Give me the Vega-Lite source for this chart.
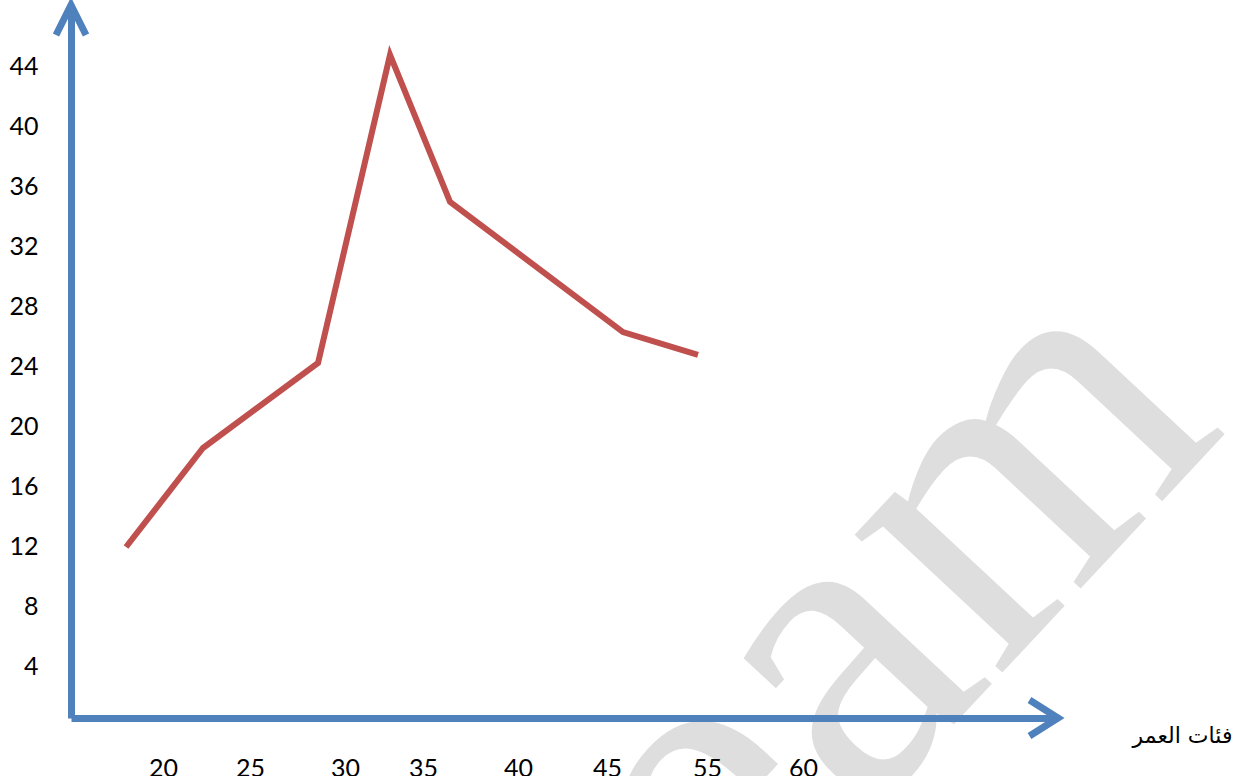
{
  "$schema": "https://vega.github.io/schema/vega-lite/v6.json",
  "width": 987,
  "height": 713,
  "autosize": {"type": "none"},
  "padding": {"left": 71, "top": 5, "right": 184, "bottom": 58},
  "background": "white",
  "config": {"view": {"stroke": null}, "font": "Lato"},
  "datasets": {
    "series": [
      {"age": 17.69, "value": 12.0},
      {"age": 22.5, "value": 18.6},
      {"age": 29.69, "value": 24.27},
      {"age": 34.19, "value": 44.8},
      {"age": 37.94, "value": 35.0},
      {"age": 48.75, "value": 26.33},
      {"age": 53.44, "value": 24.8}
    ],
    "watermark": [{"text": "eam", "age": 65, "value": 8}]
  },
  "layer": [
    {
      "data": {"name": "watermark"},
      "mark": {"type": "text", "font": "Liberation Serif", "fontSize": 440, "color": "#dedede", "angle": -47, "align": "center", "baseline": "middle"},
      "encoding": {
        "x": {"field": "age", "type": "quantitative", "scale": {"domain": [14.25, 75.94], "nice": false, "zero": false}},
        "y": {"field": "value", "type": "quantitative", "scale": {"domain": [0.6, 48.13], "nice": false, "zero": false}},
        "text": {"field": "text"}
      }
    },
    {
      "data": {"name": "series"},
      "mark": {"type": "line", "color": "#c0504d", "strokeWidth": 6, "strokeJoin": "miter", "strokeCap": "butt"},
      "encoding": {
        "x": {
          "field": "age", "type": "quantitative",
          "scale": {"domain": [14.25, 75.94], "nice": false, "zero": false},
          "axis": {
            "zindex": 1,
            "values": [20, 25.4375, 31.375, 36.25, 42.19, 47.75, 54.0, 60.0],
            "labelExpr": "['20','25','30','35','40','45','55','60'][indexof([20, 25.4375, 31.375, 36.25, 42.19, 47.75, 54.0, 60.0], datum.value)]",
            "domainColor": "#4f81bd", "domainWidth": 7, "domainCap": "butt",
            "ticks": false, "grid": false,
            "labelFont": "Lato", "labelFontSize": 25, "labelColor": "#000000",
            "labelPadding": 38, "labelFlush": false, "labelOverlap": false,
            "title": "فئات العمر", "titleFont": "DejaVu Sans", "titleFontSize": 22, "titleFontWeight": "normal",
            "titleColor": "#000000", "titleX": 1111, "titleY": 17, "titleAlign": "center", "titleBaseline": "middle"
          }
        },
        "y": {
          "field": "value", "type": "quantitative",
          "scale": {"domain": [0.6, 48.13], "nice": false, "zero": false},
          "axis": {
            "zindex": 1,
            "values": [4, 8, 12, 16, 20, 24, 28, 32, 36, 40, 44],
            "domainColor": "#4f81bd", "domainWidth": 7, "domainCap": "butt",
            "ticks": false, "grid": false,
            "labelFont": "Lato", "labelFontSize": 25, "labelColor": "#000000",
            "labelPadding": 33, "labelFlush": false, "labelOverlap": false,
            "title": null
          }
        }
      }
    },
    {
      "data": {"values": [{}]},
      "mark": {"type": "point", "shape": "M-1,2L0,0L1,2", "filled": false, "stroke": "#4f81bd", "strokeWidth": 7, "size": 900, "opacity": 1, "strokeJoin": "miter"},
      "encoding": {
        "x": {"datum": 14.25, "type": "quantitative"},
        "y": {"datum": 48.13, "type": "quantitative"}
      }
    },
    {
      "data": {"values": [{}]},
      "mark": {"type": "point", "shape": "M-1.9,-1.2L0,0L-1.9,1.2", "filled": false, "stroke": "#4f81bd", "strokeWidth": 7, "size": 900, "opacity": 1, "strokeJoin": "miter"},
      "encoding": {
        "x": {"datum": 75.94, "type": "quantitative"},
        "y": {"datum": 0.6, "type": "quantitative"}
      }
    }
  ]
}
